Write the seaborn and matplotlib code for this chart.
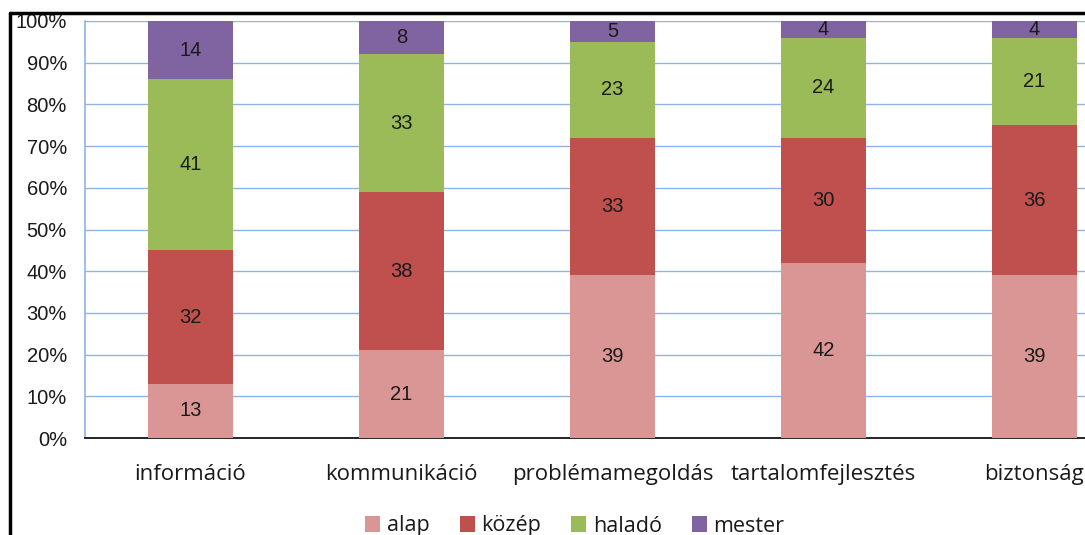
import matplotlib
matplotlib.use("Agg")
import matplotlib.pyplot as plt
from matplotlib.lines import Line2D
from matplotlib.patches import Patch
import seaborn as sns
import pandas as pd
import numpy as np

categories = ["információ", "kommunikáció", "problémamegoldás", "tartalomfejlesztés", "biztonság"]
series_names = ["alap", "közép", "haladó", "mester"]
alap = [13, 21, 39, 42, 39]
kozep = [32, 38, 33, 30, 36]
halado = [41, 33, 23, 24, 21]
mester = [14, 8, 5, 4, 4]
colors = ["#D99694", "#C0504D", "#9BBB59", "#8064A2"]
ytick_labels = ["0%", "10%", "20%", "30%", "40%", "50%", "60%", "70%", "80%", "90%", "100%"]

sns.set_theme(style="white")
plt.rcParams["font.family"] = ["Liberation Sans", "DejaVu Sans"]

W, H = 1085, 535
fig = plt.figure(figsize=(W / 100, H / 100), dpi=100)
ax = fig.add_axes([85 / W, 97 / H, 1055 / W, 417 / H])

values = [alap, kozep, halado, mester]
bottom = np.zeros(len(categories))
for name, vals, col in zip(series_names, values, colors):
    df = pd.DataFrame({"cat": categories, "val": vals})
    sns.barplot(data=df, x="cat", y="val", color=col, bottom=bottom, width=0.4,
                saturation=1, ax=ax, edgecolor="none", zorder=3)
    for i, v in enumerate(vals):
        ax.text(i, bottom[i] + v / 2, str(v), ha="center", va="center",
                fontsize=14.5, color="#1a1a1a", zorder=4)
    bottom = bottom + np.array(vals)

ax.set_xlim(-0.5, len(categories) - 0.5)
ax.set_ylim(0, 100)
ax.set_yticks(np.arange(0, 101, 10))
ax.set_yticklabels(ytick_labels)
ax.yaxis.grid(True, color="#8EB4E3", linewidth=1.0, zorder=0)
ax.set_axisbelow(True)
ax.set_xlabel("")
ax.set_ylabel("")
ax.tick_params(axis="y", length=0, pad=13, labelsize=14.5, labelcolor="#1a1a1a")
ax.tick_params(axis="x", length=0, pad=19, labelsize=16, labelcolor="#1a1a1a")
for lbl in ax.get_xticklabels():
    lbl.set_fontfamily(["Open Sans", "DejaVu Sans"])
for s in ["top", "right"]:
    ax.spines[s].set_visible(False)
ax.spines["left"].set_color("#8EB4E3")
ax.spines["left"].set_linewidth(1.2)
ax.spines["bottom"].set_color("#000000")
ax.spines["bottom"].set_linewidth(1.2)

# frame lines (cropped chart border)
fig.add_artist(Line2D([10 / W, 10 / W], [0, 1 - 13 / H], color="black", linewidth=2.5, transform=fig.transFigure))
fig.add_artist(Line2D([10 / W, 1], [1 - 13 / H, 1 - 13 / H], color="black", linewidth=2.5, transform=fig.transFigure))

handles = [Patch(facecolor=c, edgecolor="none", label=n) for n, c in zip(series_names, colors)]
leg = fig.legend(handles=handles, loc="center", bbox_to_anchor=(575 / W, 9 / H), ncol=4,
                 frameon=False, handlelength=0.7, handleheight=0.7,
                 handletextpad=0.3, columnspacing=1.4,
                 prop={"family": ["Open Sans", "DejaVu Sans"], "size": 15.5})
for t in leg.get_texts():
    t.set_color("#1a1a1a")

fig.savefig("out.png", dpi=100)
